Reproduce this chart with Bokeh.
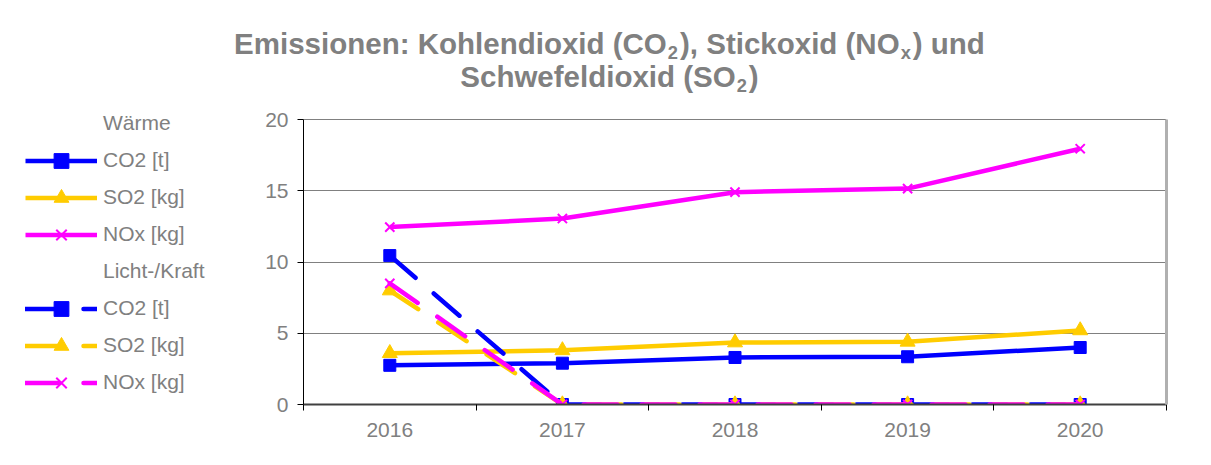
from bokeh.plotting import figure
from bokeh.models import Legend, LegendItem, FixedTicker, Range1d, Div, LinearAxis
from bokeh.layouts import column, row
from bokeh.embed import file_html
from bokeh.resources import INLINE

# ---- data ----
years = [2016, 2017, 2018, 2019, 2020]
waerme_co2 = [2.75, 2.9, 3.3, 3.35, 4.0]
waerme_so2 = [3.6, 3.8, 4.35, 4.4, 5.2]
waerme_nox = [12.45, 13.05, 14.9, 15.15, 17.95]
licht_co2 = [10.45, 0, 0, 0, 0]
licht_so2 = [8.0, 0, 0, 0, 0]
licht_nox = [8.5, 0, 0, 0, 0]
y_ticks = [0, 5, 10, 15, 20]
title_html = ("Emissionen: Kohlendioxid (CO<sub>2</sub>), Stickoxid (NO<sub>x</sub>) und<br>"
              "Schwefeldioxid (SO<sub>2</sub>)")
group_labels = ["W\u00e4rme", "Licht-/Kraft"]
series_labels = ["CO2 [t]", "SO2 [kg]", "NOx [kg]"]

BLUE = "#0000FF"
YELLOW = "#FFCC00"
MAGENTA = "#FF00FF"
GRAY = "#808080"
FONT = "Liberation Sans"
FS = "21px"
DASH = "34 24"
LW = 4.5

title = Div(
    text=("<style>sub{font-size:62%;line-height:0;vertical-align:-0.25em;"
          "padding:0 2px 0 1px}</style>"
          "<div style=\"box-sizing:border-box;width:1195px;padding-left:24px;padding-top:27px;"
          "text-align:center;font-family:'Liberation Sans';font-weight:bold;font-size:29.5px;"
          "line-height:33px;color:#808080\">" + title_html + "</div>"),
    width=1195, height=100, margin=0)

LEG_W = 262
FRAME_H = 300          # frame height incl. the empty strip above 20 used by the legend
AXIS_H = 285           # pixel height of the 0..20 value axis
y_top = y_ticks[-1] * FRAME_H / AXIS_H

p = figure(width=1195 - LEG_W, height=349,
           x_range=Range1d(years[0] - 0.5, years[-1] + 0.5),
           y_range=Range1d(y_ticks[0], y_top),
           output_backend="svg", toolbar_location=None,
           min_border_left=303 - LEG_W, min_border_right=29,
           min_border_top=4, min_border_bottom=45, margin=0)

p.background_fill_color = "white"
p.border_fill_color = "white"
p.outline_line_color = None

# axes
p.yaxis.ticker = FixedTicker(ticks=y_ticks)
p.yaxis.bounds = (y_ticks[0], y_ticks[-1])
p.yaxis.major_tick_out = 6
p.yaxis.major_tick_in = 0
p.yaxis.minor_tick_line_color = None
p.yaxis.axis_line_color = "black"
p.yaxis.major_tick_line_color = "black"
p.yaxis.major_label_text_font = FONT
p.yaxis.major_label_text_font_size = FS
p.yaxis.major_label_text_color = GRAY
p.yaxis.major_label_standoff = 9

right_axis = LinearAxis(ticker=FixedTicker(ticks=[]), bounds=(y_ticks[0], y_ticks[-1]),
                        axis_line_color="#b0b0b0", axis_line_width=3,
                        major_tick_line_color=None, minor_tick_line_color=None,
                        major_label_text_font_size="0px")
p.add_layout(right_axis, "right")

p.xaxis.ticker = FixedTicker(ticks=years,
                             minor_ticks=[y - 0.5 for y in years] + [years[-1] + 0.5])
p.xaxis.major_tick_line_color = None
p.xaxis.major_tick_out = 0
p.xaxis.major_tick_in = 0
p.xaxis.minor_tick_out = 6
p.xaxis.minor_tick_in = 0
p.xaxis.minor_tick_line_color = "black"
p.xaxis.axis_line_color = "#404040"
p.xaxis.axis_line_width = 2
p.xaxis.major_label_text_font = FONT
p.xaxis.major_label_text_font_size = FS
p.xaxis.major_label_text_color = GRAY
p.xaxis.major_label_standoff = 12

p.xgrid.grid_line_color = None
p.ygrid.ticker = FixedTicker(ticks=y_ticks)
p.ygrid.grid_line_color = GRAY
p.ygrid.grid_line_width = 1


def add_series(fig, xs, ys, color, marker, msize, dashed):
    kw = dict(line_color=color, line_width=LW)
    if dashed:
        kw.update(line_dash=DASH, line_cap="round")
    ln = fig.line(xs, ys, **kw)
    if marker == "x":
        mk = fig.scatter(xs, ys, marker="x", size=msize, line_color=color, line_width=2)
    else:
        mk = fig.scatter(xs, ys, marker=marker, size=msize, color=color)
    return [ln, mk]


spec = [
    (waerme_co2, BLUE, "square", 12, False),
    (waerme_so2, YELLOW, "triangle", 15, False),
    (waerme_nox, MAGENTA, "x", 13, False),
    (licht_co2, BLUE, "square", 12, True),
    (licht_so2, YELLOW, "triangle", 15, True),
    (licht_nox, MAGENTA, "x", 13, True),
]
for ys, c, m, s, d in spec:
    add_series(p, years, ys, c, m, s, d)

# legend panel: a figure whose view range shows none of the data,
# holding renderers with the same styles for the legend entries
lf = figure(width=LEG_W, height=349, x_range=Range1d(0, 1), y_range=Range1d(0, 1),
            output_backend="svg", toolbar_location=None,
            x_axis_location=None, y_axis_location=None,
            min_border=0, min_border_top=4, min_border_bottom=45, margin=0)
lf.outline_line_color = None
lf.xgrid.grid_line_color = None
lf.ygrid.grid_line_color = None
lf.background_fill_color = "white"
lf.border_fill_color = "white"

leg_rs = [add_series(lf, years, ys, c, m, s, d) for ys, c, m, s, d in spec]
h1 = lf.line(years, waerme_co2, line_alpha=0)
h2 = lf.line(years, licht_co2, line_alpha=0)

items = [LegendItem(label=group_labels[0], renderers=[h1])]
items += [LegendItem(label=series_labels[i], renderers=leg_rs[i]) for i in range(3)]
items += [LegendItem(label=group_labels[1], renderers=[h2])]
items += [LegendItem(label=series_labels[i], renderers=leg_rs[3 + i]) for i in range(3)]

legend = Legend(items=items, location=(25, 3.5),
                glyph_width=72, glyph_height=37, label_height=37,
                spacing=0, padding=0, margin=0, label_standoff=6,
                label_text_font=FONT, label_text_font_size=FS,
                label_text_color=GRAY, border_line_color=None,
                background_fill_alpha=0)
lf.add_layout(legend, "center")

layout = column(title, row(lf, p, spacing=0), spacing=0)
open("out.html", "w").write(file_html(layout, INLINE))
